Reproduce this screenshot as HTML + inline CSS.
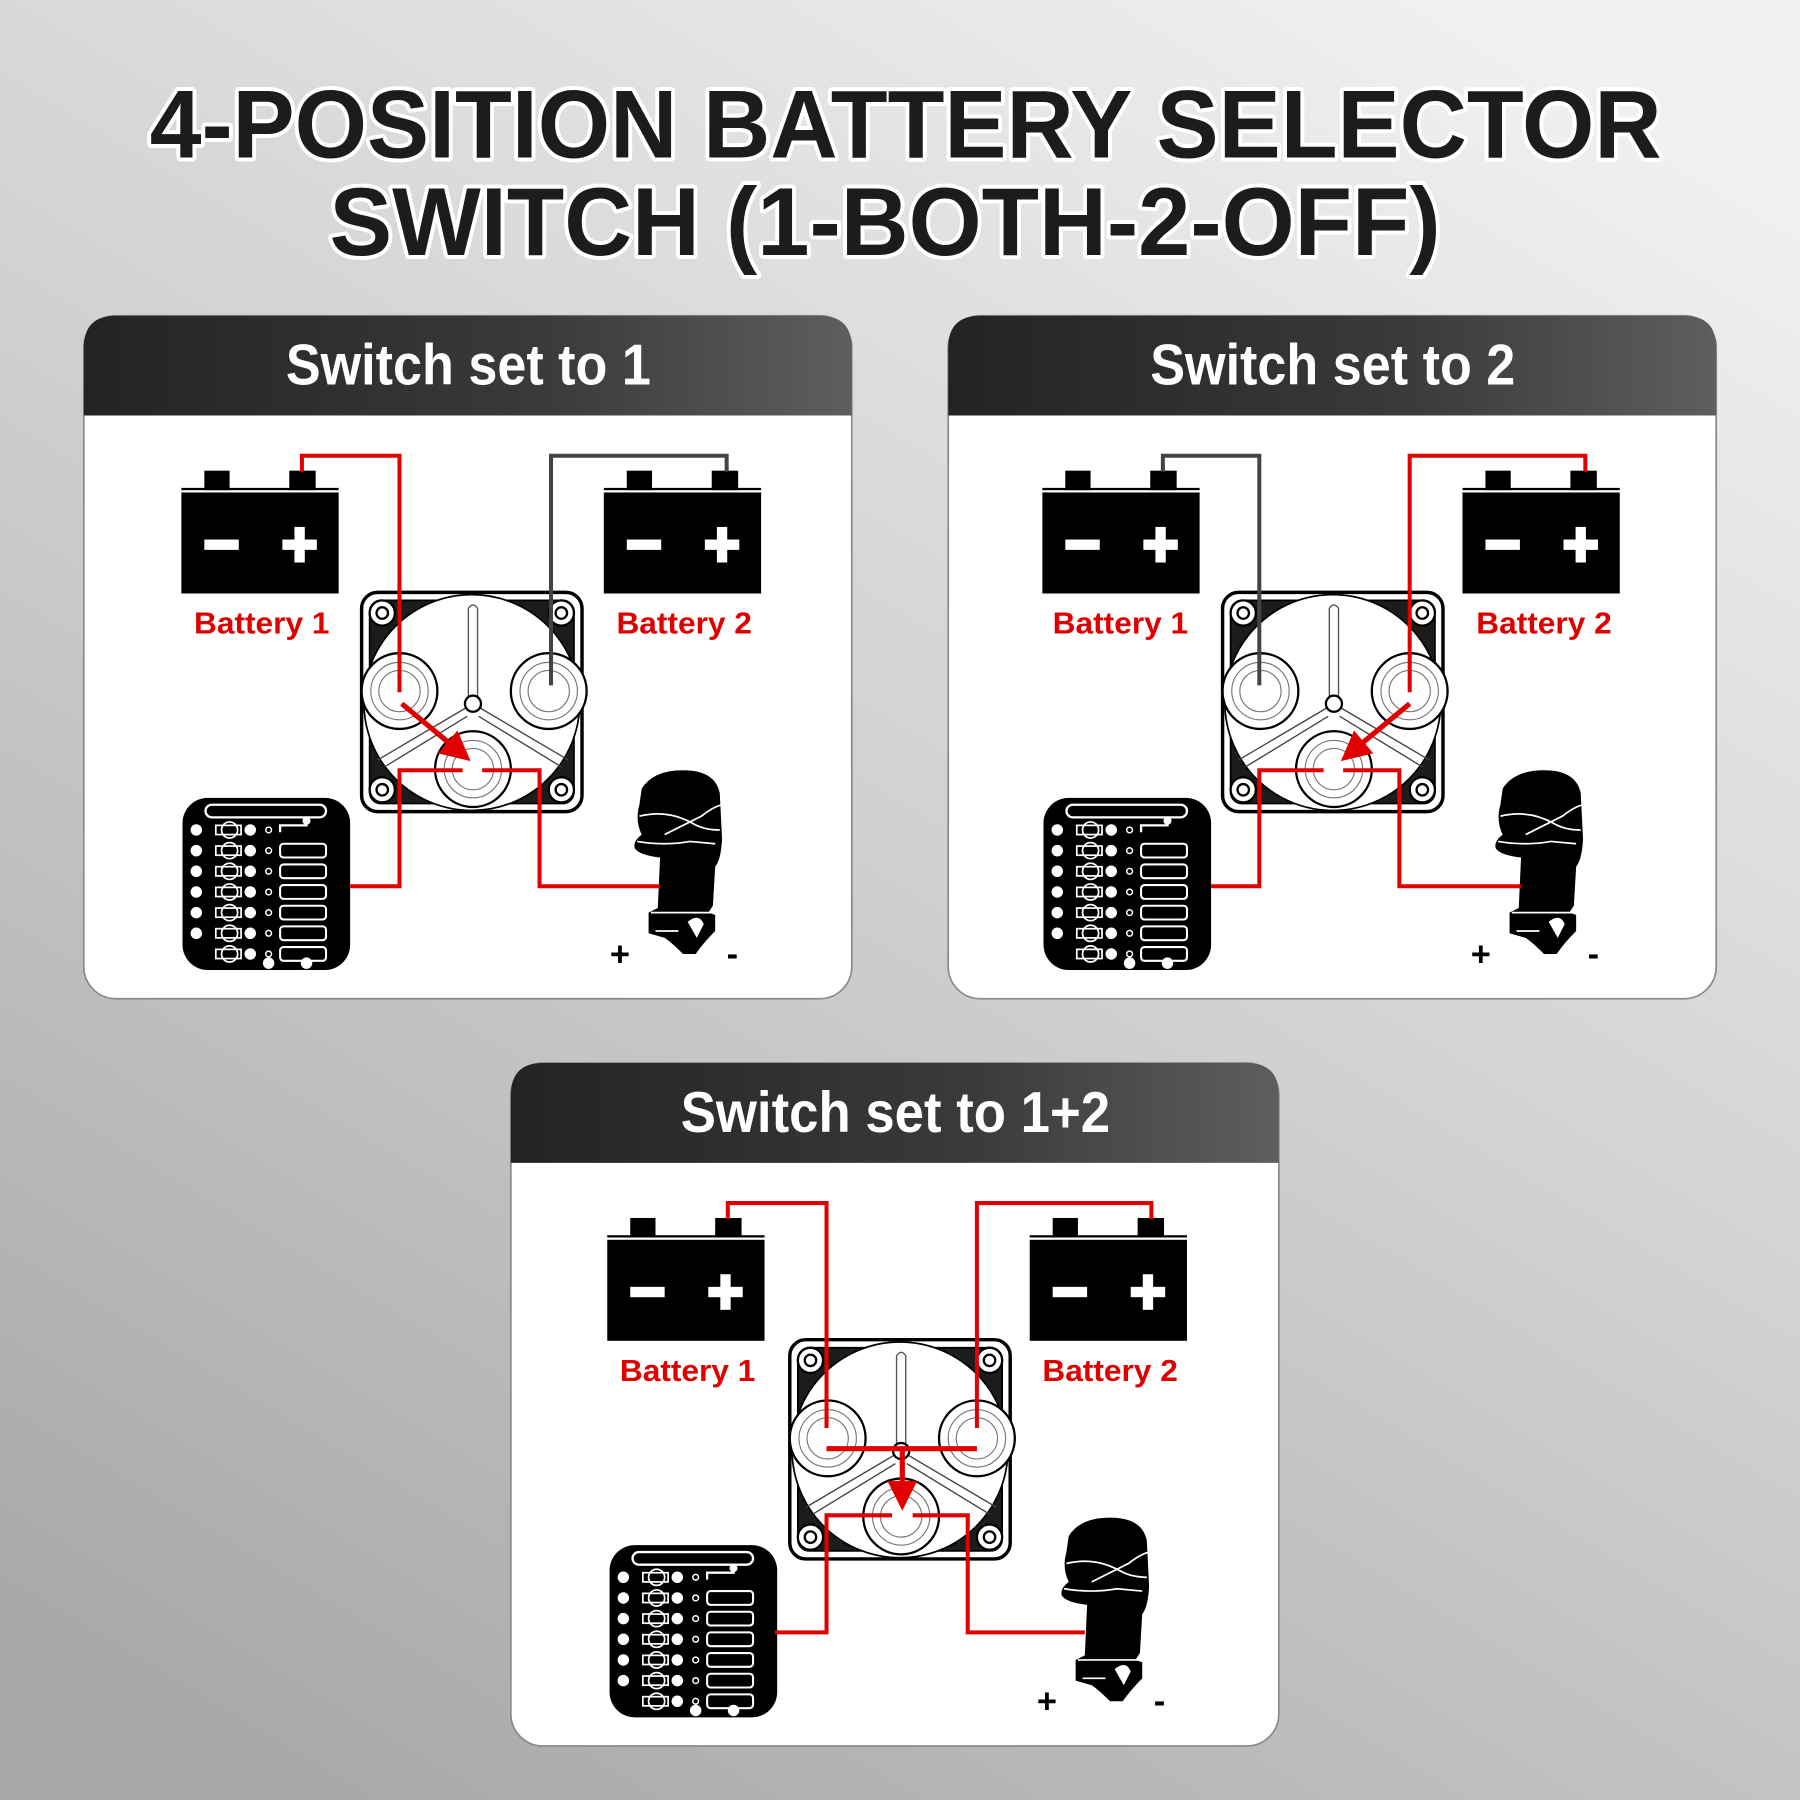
<!DOCTYPE html>
<html><head><meta charset="utf-8"><style>
html,body{margin:0;padding:0;width:1800px;height:1800px;overflow:hidden;background:#ccc}
svg{display:block}
</style></head><body>
<svg width="1800" height="1800" viewBox="0 0 1568 1568" xmlns="http://www.w3.org/2000/svg">
<defs>
<linearGradient id="bg" x1="0.8" y1="0" x2="0.2" y2="1">
<stop offset="0" stop-color="#f0f0f0"/><stop offset="0.45" stop-color="#d2d2d2"/><stop offset="1" stop-color="#a9a9a9"/>
</linearGradient>
<linearGradient id="hd" x1="0" y1="0" x2="1" y2="0">
<stop offset="0" stop-color="#232323"/><stop offset="0.6" stop-color="#3a3a3a"/><stop offset="1" stop-color="#5e5e5e"/>
</linearGradient>
<g id="panelbg">
<rect x="0" y="0" width="669" height="595" rx="28" fill="#fff" stroke="#8a8a8a" stroke-width="1.5"/>
<path d="M0,87 L0,28 Q0,0 28,0 L641,0 Q669,0 669,28 L669,87 Z" fill="url(#hd)"/>
</g>
<g id="bat">
<rect x="20" y="0" width="22" height="17" fill="#000"/>
<rect x="94" y="0" width="23" height="17" fill="#000"/>
<rect x="0" y="15" width="137" height="2" fill="#000"/>
<rect x="0" y="19" width="137" height="88" fill="#000"/>
<rect x="20" y="60" width="30" height="9" fill="#fff"/>
<rect x="88" y="60" width="30" height="9" fill="#fff"/>
<rect x="98.5" y="49" width="9" height="31" fill="#fff"/>
</g>
<g id="sw">
<rect x="0" y="0" width="192" height="191" rx="14" fill="#fff" stroke="#000" stroke-width="3"/>
<rect x="7" y="7" width="178" height="177" rx="10" fill="#1c1c1c" stroke="#000" stroke-width="1.5"/>
<circle cx="96" cy="96" r="94" fill="#fff" stroke="#000" stroke-width="1.5"/>
<g fill="#fff" stroke="#000" stroke-width="2">
<circle cx="18" cy="18" r="11"/><circle cx="174" cy="18" r="11"/><circle cx="18" cy="172" r="11"/><circle cx="174" cy="172" r="11"/>
</g>
<g fill="none" stroke="#000" stroke-width="2">
<circle cx="18" cy="18" r="5"/><circle cx="174" cy="18" r="5"/><circle cx="18" cy="172" r="5"/><circle cx="174" cy="172" r="5"/>
</g>
<path d="M93,92 L93,14 Q97,8 101,14 L101,92" fill="#fff" stroke="#555" stroke-width="1.2"/>
<path d="M92,100 L14,146 M102,100 L180,146 M92,108 L20,152 M102,108 L174,152" stroke="#444" stroke-width="1.2"/>
<g fill="#fff" stroke="#000" stroke-width="2">
<circle cx="33" cy="86" r="33"/><circle cx="163" cy="86" r="33"/><circle cx="97" cy="154" r="33"/>
</g>
<g fill="none" stroke="#777" stroke-width="1">
<circle cx="33" cy="86" r="25"/><circle cx="163" cy="86" r="25"/><circle cx="97" cy="154" r="25"/>
<circle cx="33" cy="86" r="18"/><circle cx="163" cy="86" r="18"/><circle cx="97" cy="154" r="18"/>
</g>
<circle cx="97" cy="97" r="7" fill="#fff" stroke="#000" stroke-width="2"/>
</g>
<g id="frow">
<circle cx="12" cy="0" r="5" fill="#fff"/>
<circle cx="41" cy="0" r="7" fill="none" stroke="#fff" stroke-width="1.5"/>
<rect x="29" y="-4" width="22" height="8" fill="none" stroke="#fff" stroke-width="1.5"/>
<circle cx="59" cy="0" r="5" fill="#fff"/>
<circle cx="75" cy="0" r="2.5" fill="none" stroke="#fff" stroke-width="1.3"/>
<rect x="85" y="-6" width="40" height="12" rx="3" fill="none" stroke="#fff" stroke-width="1.8"/>
</g>
<g id="fuse">
<rect x="0" y="0" width="146" height="150" rx="22" fill="#000"/>
<rect x="20" y="6" width="105" height="11" rx="5.5" fill="none" stroke="#fff" stroke-width="2"/>
<path d="M108,18 L108,24 L85,24 L85,30" fill="none" stroke="#fff" stroke-width="2"/>
<circle cx="108" cy="20" r="3.5" fill="#fff"/>
<use href="#frow" y="46"/><use href="#frow" y="64"/><use href="#frow" y="82"/><use href="#frow" y="100"/><use href="#frow" y="118"/>
<g transform="translate(0,28)">
<circle cx="12" cy="0" r="5" fill="#fff"/>
<circle cx="41" cy="0" r="7" fill="none" stroke="#fff" stroke-width="1.5"/>
<rect x="29" y="-4" width="22" height="8" fill="none" stroke="#fff" stroke-width="1.5"/>
<circle cx="59" cy="0" r="5" fill="#fff"/>
<circle cx="75" cy="0" r="2.5" fill="none" stroke="#fff" stroke-width="1.3"/>
</g>
<g transform="translate(0,136)">
<circle cx="41" cy="0" r="7" fill="none" stroke="#fff" stroke-width="1.5"/>
<rect x="29" y="-4" width="22" height="8" fill="none" stroke="#fff" stroke-width="1.5"/>
<circle cx="59" cy="0" r="5" fill="#fff"/>
<circle cx="75" cy="0" r="2.5" fill="none" stroke="#fff" stroke-width="1.3"/>
<rect x="85" y="-6" width="40" height="12" rx="3" fill="none" stroke="#fff" stroke-width="1.8"/>
</g>
<circle cx="75" cy="144" r="5" fill="#fff"/><circle cx="108" cy="144" r="5" fill="#fff"/>
</g>
<g id="motor">
<path d="M8,16 Q18,0 44,0 Q72,0 76,20 L78,60 Q77,78 72,84 L70,118 L66,124 L72,126 L72,140 Q62,150 55,160 L44,160 Q34,150 28,146 L14,142 L14,124 L22,120 L24,76 Q6,74 2,68 Q0,62 8,56 Q2,44 6,30 Z" fill="#000"/>
<path d="M6,40 Q30,34 52,46 Q62,52 76,52 M28,56 Q44,48 60,40 Q70,32 78,30 M4,62 Q28,66 50,62 L72,64" fill="none" stroke="#fff" stroke-width="1.5"/>
<path d="M16,124 L68,124 M20,140 L40,140" stroke="#fff" stroke-width="1.5"/>
<path d="M48,132 Q58,124 62,134 L56,146 Z" fill="#fff"/>
</g>
<g id="arrowhead"><path d="M0,0 L-26,-13 L-26,13 Z" fill="#e00000"/></g>
</defs>

<rect width="1568" height="1568" fill="url(#bg)"/>

<g font-family="Liberation Sans, sans-serif" font-weight="bold" fill="#1c1c1c" stroke="#fff" stroke-width="7" paint-order="stroke" stroke-linejoin="round" text-anchor="middle">
<text x="789" y="137" font-size="84" textLength="1317" lengthAdjust="spacingAndGlyphs">4-POSITION BATTERY SELECTOR</text>
<text x="771" y="222" font-size="84" textLength="968" lengthAdjust="spacingAndGlyphs">SWITCH (1-BOTH-2-OFF)</text>
</g>

<!-- Panel 1 -->
<g transform="translate(73,275)">
<use href="#panelbg"/>
<text x="335" y="60" font-family="Liberation Sans, sans-serif" font-weight="bold" font-size="50" fill="#fff" text-anchor="middle" textLength="318" lengthAdjust="spacingAndGlyphs">Switch set to 1</text>
<use href="#bat" x="85" y="135"/><use href="#bat" x="453" y="135"/>
<g font-family="Liberation Sans, sans-serif" font-weight="bold" font-size="27" fill="#e00000" text-anchor="middle">
<text x="155" y="277" textLength="118" lengthAdjust="spacingAndGlyphs">Battery 1</text>
<text x="523" y="277" textLength="118" lengthAdjust="spacingAndGlyphs">Battery 2</text>
</g>
<use href="#sw" x="242" y="241"/>
<use href="#fuse" x="86" y="420"/>
<use href="#motor" x="478" y="396"/>
<g font-family="Liberation Sans, sans-serif" font-weight="bold" font-size="30" fill="#000" text-anchor="middle"><text x="467" y="566">+</text><text x="565" y="566">-</text></g>
<g fill="none" stroke-width="3.5">
<path d="M190,136 L190,122 L275,122 L275,328" stroke="#e00000"/>
<path d="M560,136 L560,122 L407,122 L407,322" stroke="#444"/>
<path d="M330,396 L275,396 L275,497 L232,497" stroke="#e00000"/>
<path d="M347,396 L397,396 L397,497 L502,497" stroke="#e00000"/>
<path d="M277,338 L318,372" stroke="#e00000" stroke-width="4.5"/>
</g>
<use href="#arrowhead" transform="translate(337,388) rotate(40)"/>
</g>

<!-- Panel 2 -->
<g transform="translate(826,275)">
<use href="#panelbg"/>
<text x="335" y="60" font-family="Liberation Sans, sans-serif" font-weight="bold" font-size="50" fill="#fff" text-anchor="middle" textLength="318" lengthAdjust="spacingAndGlyphs">Switch set to 2</text>
</g>
<g transform="translate(823,275)">
<use href="#bat" x="85" y="135"/><use href="#bat" x="451" y="135"/>
<g font-family="Liberation Sans, sans-serif" font-weight="bold" font-size="27" fill="#e00000" text-anchor="middle">
<text x="153" y="277" textLength="118" lengthAdjust="spacingAndGlyphs">Battery 1</text>
<text x="522" y="277" textLength="118" lengthAdjust="spacingAndGlyphs">Battery 2</text>
</g>
<use href="#sw" x="242" y="241"/>
<use href="#fuse" x="86" y="420"/>
<use href="#motor" x="478" y="396"/>
<g font-family="Liberation Sans, sans-serif" font-weight="bold" font-size="30" fill="#000" text-anchor="middle"><text x="467" y="566">+</text><text x="565" y="566">-</text></g>
<g fill="none" stroke-width="3.5">
<path d="M190,136 L190,122 L274,122 L274,322" stroke="#444"/>
<path d="M558,136 L558,122 L405,122 L405,328" stroke="#e00000"/>
<path d="M330,396 L274,396 L274,497 L232,497" stroke="#e00000"/>
<path d="M347,396 L396,396 L396,497 L502,497" stroke="#e00000"/>
<path d="M405,338 L364,372" stroke="#e00000" stroke-width="4.5"/>
</g>
<use href="#arrowhead" transform="translate(345,388) rotate(140)"/>
</g>

<!-- Panel 3 -->
<g transform="translate(445,926)">
<use href="#panelbg"/>
<text x="335" y="60" font-family="Liberation Sans, sans-serif" font-weight="bold" font-size="50" fill="#fff" text-anchor="middle" textLength="374" lengthAdjust="spacingAndGlyphs">Switch set to 1+2</text>
<use href="#bat" x="84" y="135"/><use href="#bat" x="452" y="135"/>
<g font-family="Liberation Sans, sans-serif" font-weight="bold" font-size="27" fill="#e00000" text-anchor="middle">
<text x="154" y="277" textLength="118" lengthAdjust="spacingAndGlyphs">Battery 1</text>
<text x="522" y="277" textLength="118" lengthAdjust="spacingAndGlyphs">Battery 2</text>
</g>
<use href="#sw" x="243" y="241"/>
<use href="#fuse" x="86" y="420"/>
<use href="#motor" x="478" y="396"/>
<g font-family="Liberation Sans, sans-serif" font-weight="bold" font-size="30" fill="#000" text-anchor="middle"><text x="467" y="566">+</text><text x="565" y="566">-</text></g>
<g fill="none" stroke-width="3.5">
<path d="M189,136 L189,122 L275,122 L275,318" stroke="#e00000"/>
<path d="M558,136 L558,122 L406,122 L406,318" stroke="#e00000"/>
<path d="M275,336 L406,336" stroke="#e00000" stroke-width="4.5"/>
<path d="M341,336 L341,368" stroke="#e00000" stroke-width="4.5"/>
<path d="M332,394 L275,394 L275,496 L230,496" stroke="#e00000"/>
<path d="M350,394 L398,394 L398,496 L500,496" stroke="#e00000"/>
</g>
<use href="#arrowhead" transform="translate(341,390) rotate(90)"/>
</g>
</svg>
</body></html>
